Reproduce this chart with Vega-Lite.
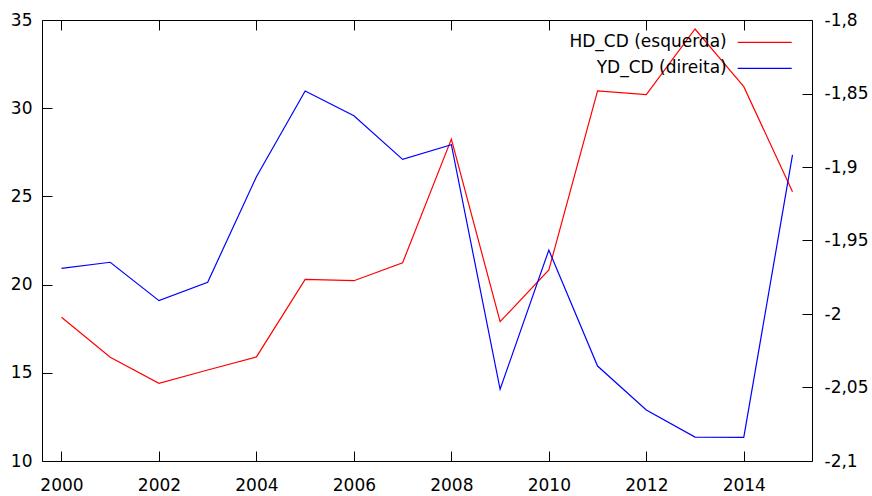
{
  "$schema": "https://vega.github.io/schema/vega-lite/v6.json",
  "width": 770,
  "height": 441,
  "autosize": {"type": "none"},
  "padding": {"left": 42, "top": 20, "right": 60, "bottom": 35},
  "background": "white",
  "config": {
    "font": "DejaVu Sans",
    "view": {"stroke": "#000000", "strokeWidth": 1},
    "axis": {
      "domain": false,
      "grid": false,
      "ticks": true,
      "tickSize": 10,
      "offset": -10,
      "zindex": 1,
      "tickColor": "#000000",
      "tickWidth": 1,
      "labelFont": "DejaVu Sans",
      "labelFontSize": 17,
      "labelColor": "#000000",
      "title": null
    },
    "legend": {
      "orient": "none",
      "title": null,
      "padding": 0,
      "symbolType": "stroke",
      "symbolSize": 2916,
      "symbolStrokeWidth": 1.2,
      "labelFont": "DejaVu Sans",
      "labelFontSize": 17,
      "labelColor": "#000000",
      "labelAlign": "right",
      "labelOffset": -66,
      "labelLimit": 400
    }
  },
  "data": {
    "values": [
      {"ano": 2000, "serie": "HD_CD (esquerda)", "valor": 18.15},
      {"ano": 2001, "serie": "HD_CD (esquerda)", "valor": 15.88},
      {"ano": 2002, "serie": "HD_CD (esquerda)", "valor": 14.4},
      {"ano": 2003, "serie": "HD_CD (esquerda)", "valor": 15.16},
      {"ano": 2004, "serie": "HD_CD (esquerda)", "valor": 15.9},
      {"ano": 2005, "serie": "HD_CD (esquerda)", "valor": 20.3},
      {"ano": 2006, "serie": "HD_CD (esquerda)", "valor": 20.22},
      {"ano": 2007, "serie": "HD_CD (esquerda)", "valor": 21.24},
      {"ano": 2008, "serie": "HD_CD (esquerda)", "valor": 28.25},
      {"ano": 2009, "serie": "HD_CD (esquerda)", "valor": 17.9},
      {"ano": 2010, "serie": "HD_CD (esquerda)", "valor": 20.83},
      {"ano": 2011, "serie": "HD_CD (esquerda)", "valor": 30.98},
      {"ano": 2012, "serie": "HD_CD (esquerda)", "valor": 30.77},
      {"ano": 2013, "serie": "HD_CD (esquerda)", "valor": 34.49},
      {"ano": 2014, "serie": "HD_CD (esquerda)", "valor": 31.22},
      {"ano": 2015, "serie": "HD_CD (esquerda)", "valor": 25.27},
      {"ano": 2000, "serie": "YD_CD (direita)", "valor": -1.9689},
      {"ano": 2001, "serie": "YD_CD (direita)", "valor": -1.9648},
      {"ano": 2002, "serie": "YD_CD (direita)", "valor": -1.9909},
      {"ano": 2003, "serie": "YD_CD (direita)", "valor": -1.9784},
      {"ano": 2004, "serie": "YD_CD (direita)", "valor": -1.9066},
      {"ano": 2005, "serie": "YD_CD (direita)", "valor": -1.8483},
      {"ano": 2006, "serie": "YD_CD (direita)", "valor": -1.8651},
      {"ano": 2007, "serie": "YD_CD (direita)", "valor": -1.8948},
      {"ano": 2008, "serie": "YD_CD (direita)", "valor": -1.8848},
      {"ano": 2009, "serie": "YD_CD (direita)", "valor": -2.0512},
      {"ano": 2010, "serie": "YD_CD (direita)", "valor": -1.9565},
      {"ano": 2011, "serie": "YD_CD (direita)", "valor": -2.0354},
      {"ano": 2012, "serie": "YD_CD (direita)", "valor": -2.0653},
      {"ano": 2013, "serie": "YD_CD (direita)", "valor": -2.0837},
      {"ano": 2014, "serie": "YD_CD (direita)", "valor": -2.0839},
      {"ano": 2015, "serie": "YD_CD (direita)", "valor": -1.8918}
    ]
  },
  "layer": [
    {
      "transform": [{"filter": "datum.serie === 'HD_CD (esquerda)'"}],
      "mark": {"type": "line", "strokeWidth": 1.2, "clip": true},
      "encoding": {
        "x": {
          "field": "ano",
          "type": "quantitative",
          "scale": {"domain": [1999.6, 2015.4], "nice": false, "zero": false},
          "axis": {
            "orient": "bottom",
            "values": [2000, 2002, 2004, 2006, 2008, 2010, 2012, 2014],
            "format": "d",
            "labelPadding": 16
          }
        },
        "y": {
          "field": "valor",
          "type": "quantitative",
          "scale": {"domain": [10, 35], "nice": false, "zero": false},
          "axis": {
            "orient": "left",
            "values": [10, 15, 20, 25, 30, 35],
            "labelPadding": 10
          }
        },
        "color": {
          "field": "serie",
          "type": "nominal",
          "scale": {"domain": ["HD_CD (esquerda)"], "range": ["#ff0000"]},
          "legend": {"legendX": 694.7, "legendY": -5.6}
        }
      }
    },
    {
      "transform": [{"filter": "datum.serie === 'YD_CD (direita)'"}],
      "mark": {"type": "line", "strokeWidth": 1.2, "clip": true},
      "encoding": {
        "x": {
          "field": "ano",
          "type": "quantitative",
          "scale": {"domain": [1999.6, 2015.4], "nice": false, "zero": false},
          "axis": {
            "orient": "top",
            "values": [2000, 2002, 2004, 2006, 2008, 2010, 2012, 2014],
            "labels": false
          }
        },
        "y": {
          "field": "valor",
          "type": "quantitative",
          "scale": {"domain": [-2.1, -1.8], "nice": false, "zero": false},
          "axis": {
            "orient": "right",
            "values": [-2.1, -2.05, -2, -1.95, -1.9, -1.85, -1.8],
            "labelExpr": "replace(toString(datum.value), '.', ',')",
            "labelPadding": 12
          }
        },
        "color": {
          "field": "serie",
          "type": "nominal",
          "scale": {"domain": ["YD_CD (direita)"], "range": ["#0000ff"]},
          "legend": {"legendX": 694.7, "legendY": 20.4}
        }
      }
    }
  ],
  "resolve": {
    "scale": {"x": "independent", "y": "independent", "color": "independent"},
    "legend": {"color": "independent"}
  }
}
